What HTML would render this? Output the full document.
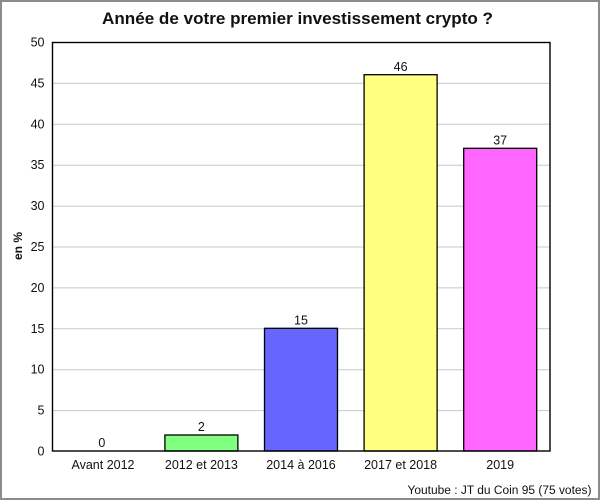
<!DOCTYPE html>
<html><head><meta charset="utf-8"><style>
html,body{margin:0;padding:0;background:#fff;}
svg{display:block;}
text{font-family:"Liberation Sans",sans-serif;fill:#111;}
</style></head><body>
<svg width="600" height="500" viewBox="0 0 600 500" xmlns="http://www.w3.org/2000/svg">
<rect x="0" y="0" width="600" height="500" fill="#fff"/>
<rect x="1" y="1" width="598" height="498" fill="none" stroke="#8c8c8c" stroke-width="2"/>
<text x="297.5" y="24" text-anchor="middle" font-size="17" font-weight="bold" fill="#222" textLength="391" lengthAdjust="spacingAndGlyphs">Année de votre premier investissement crypto ?</text>
<g stroke="#c8c8c8" stroke-width="1">
<line x1="52" x2="550" y1="410.6" y2="410.6"/>
<line x1="52" x2="550" y1="369.7" y2="369.7"/>
<line x1="52" x2="550" y1="328.8" y2="328.8"/>
<line x1="52" x2="550" y1="287.9" y2="287.9"/>
<line x1="52" x2="550" y1="247" y2="247"/>
<line x1="52" x2="550" y1="206.1" y2="206.1"/>
<line x1="52" x2="550" y1="165.2" y2="165.2"/>
<line x1="52" x2="550" y1="124.3" y2="124.3"/>
<line x1="52" x2="550" y1="83.4" y2="83.4"/>
</g>
<g font-size="12.5" text-anchor="end">
<text x="44.5" y="455.5">0</text>
<text x="44.5" y="414.6">5</text>
<text x="44.5" y="373.7">10</text>
<text x="44.5" y="332.8">15</text>
<text x="44.5" y="291.9">20</text>
<text x="44.5" y="251">25</text>
<text x="44.5" y="210.1">30</text>
<text x="44.5" y="169.2">35</text>
<text x="44.5" y="128.3">40</text>
<text x="44.5" y="87.4">45</text>
<text x="44.5" y="46.5">50</text>
</g>
<text transform="translate(22,246) rotate(-90)" text-anchor="middle" font-size="12" font-weight="bold">en %</text>
<g stroke="#000" stroke-width="1.3">
<rect x="164.9" y="435" width="73" height="16" fill="#80ff80"/>
<rect x="264.5" y="328.3" width="73" height="122.7" fill="#6666ff"/>
<rect x="364.1" y="74.7" width="73" height="376.3" fill="#ffff80"/>
<rect x="463.7" y="148.3" width="73" height="302.7" fill="#ff66ff"/>
</g>
<rect x="52.5" y="42.5" width="497.5" height="408.5" fill="none" stroke="#000" stroke-width="1.4"/>
<g font-size="12.5" text-anchor="middle">
<text x="101.8" y="447">0</text>
<text x="201.4" y="431">2</text>
<text x="301" y="324.5">15</text>
<text x="400.6" y="71">46</text>
<text x="500.2" y="144.5">37</text>
</g>
<g font-size="12.5" text-anchor="middle">
<text x="103" y="469">Avant 2012</text>
<text x="201.4" y="469">2012 et 2013</text>
<text x="301" y="469">2014 à 2016</text>
<text x="400.6" y="469">2017 et 2018</text>
<text x="500.2" y="469">2019</text>
</g>
<text x="591.5" y="494" text-anchor="end" font-size="11.5" fill="#2a0a2a" textLength="184" lengthAdjust="spacingAndGlyphs">Youtube : JT du Coin 95 (75 votes)</text>
</svg>
</body></html>
